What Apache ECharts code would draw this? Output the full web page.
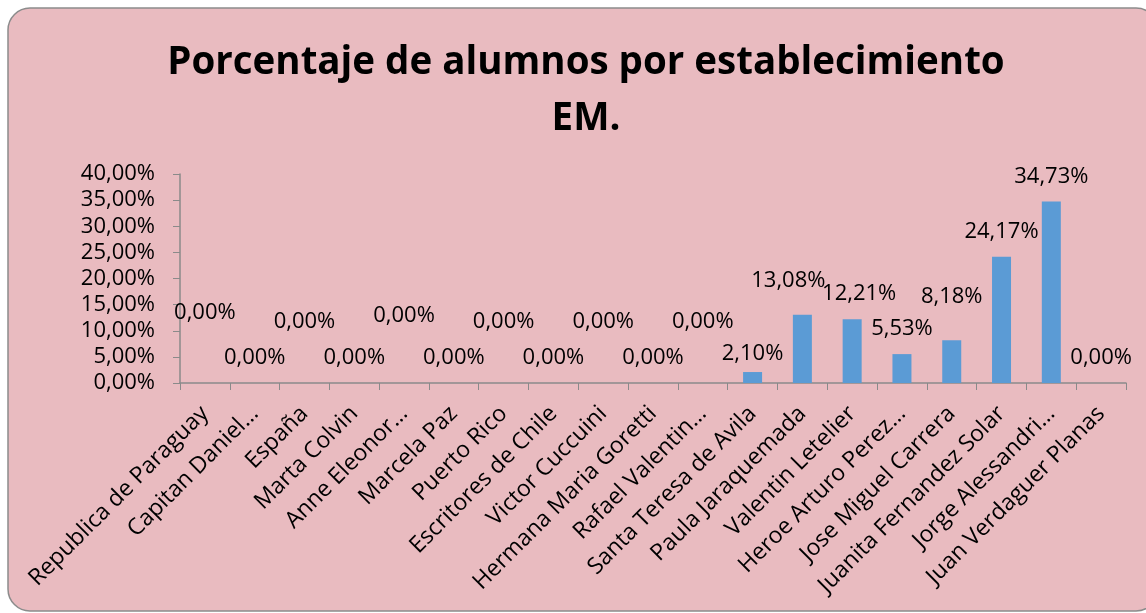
<!DOCTYPE html>
<html>
<head>
<meta charset="utf-8">
<script src="https://cdn.jsdelivr.net/npm/echarts@6/dist/echarts.min.js"></script>
<style>
  html, body { margin: 0; padding: 0; background: #fff; }
  #chart { width: 1146px; height: 613px; }
</style>
</head>
<body>
<div id="chart"></div>
<script>
// categorias (nombres tal como aparecen en el eje)
const categories = [
  'Republica de Paraguay', 'Capitan Daniel…', 'España', 'Marta Colvin',
  'Anne Eleonor…', 'Marcela Paz', 'Puerto Rico', 'Escritores de Chile',
  'Victor Cuccuini', 'Hermana Maria Goretti', 'Rafael Valentin…',
  'Santa Teresa de Avila', 'Paula Jaraquemada', 'Valentin Letelier',
  'Heroe Arturo Perez…', 'Jose Miguel Carrera', 'Juanita Fernandez Solar',
  'Jorge Alessandri…', 'Juan Verdaguer Planas'
]
// porcentaje de alumnos
const values = [0, 0, 0, 0, 0, 0, 0, 0, 0, 0, 0, 2.10, 13.08, 12.21, 5.53, 8.18, 24.17, 34.73, 0]
// ticks del eje Y
const yTicks = [0, 5, 10, 15, 20, 25, 30, 35, 40]

// desplazamiento de etiquetas (como en el original)
const labelDx = [0, 0, 0, 0, 0, 0, 0, 0, 0, 0, 0, 0, -14, 7, 0, 0, 0, 0, 0]
const labelDy = [-45, 0, -36, 0, -42, 0, -36, 0, -36, 0, -36, 7, -9, 0, 0, -19, 0, 0, 0]

const fmt = (v) => v.toFixed(2).replace('.', ',') + '%'

const chart = echarts.init(document.getElementById('chart'))

const option = {
  animation: false,
  backgroundColor: '#ffffff',
  textStyle: { fontFamily: 'Open Sans' },
  // marco rosado redondeado
  graphic: [
    {
      type: 'rect',
      z: -10,
      shape: { x: 8, y: 8, width: 1150, height: 603, r: 22 },
      style: { fill: '#e9bbc0', stroke: '#8c8c8c', lineWidth: 1.5 },
      silent: true
    }
  ],
  title: {
    text: 'Porcentaje de alumnos por establecimiento\nEM.',
    left: 581,
    top: 30,
    textAlign: 'center',
    textStyle: {
      fontFamily: 'Open Sans',
      fontWeight: 'bold',
      fontSize: 38.5,
      lineHeight: 56,
      color: '#000'
    }
  },
  grid: {
    left: 180,
    right: 20,
    top: 174,
    bottom: 230,
    containLabel: false
  },
  xAxis: {
    type: 'category',
    data: categories,
    axisLine: { lineStyle: { color: '#8a8a8a', width: 1.5 } },
    axisTick: { show: true, length: 7, alignWithLabel: false, lineStyle: { color: '#8a8a8a' } },
    axisLabel: {
      interval: 0,
      rotate: 45,
      margin: 27,
      fontSize: 23,
      color: '#000'
    }
  },
  yAxis: {
    type: 'value',
    min: yTicks[0],
    max: yTicks[yTicks.length - 1],
    interval: yTicks[1] - yTicks[0],
    splitLine: { show: false },
    axisLine: { show: true, lineStyle: { color: '#8a8a8a', width: 1.5 } },
    axisTick: { show: true, length: 7, lineStyle: { color: '#8a8a8a' } },
    axisLabel: {
      margin: 25,
      fontSize: 22,
      color: '#000',
      formatter: (v) => fmt(v)
    }
  },
  series: [
    {
      type: 'bar',
      barWidth: 19,
      itemStyle: { color: '#5b9bd5' },
      data: values.map((v, i) => ({
        value: v,
        label: { offset: [labelDx[i], labelDy[i]] }
      })),
      label: {
        show: true,
        position: 'top',
        distance: 14,
        fontSize: 22,
        color: '#000',
        formatter: (p) => fmt(p.value)
      }
    }
  ]
}

chart.setOption(option)
</script>
</body>
</html>
